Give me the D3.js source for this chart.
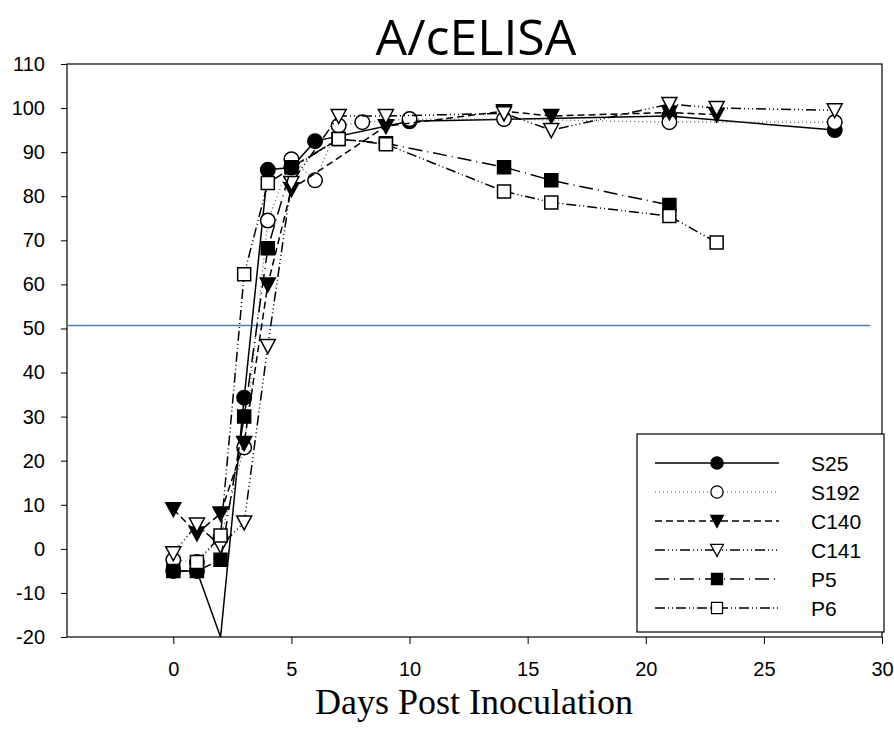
<!DOCTYPE html>
<html><head><meta charset="utf-8">
<script src="https://cdn.jsdelivr.net/npm/d3@7"></script>
<style>body{margin:0;background:#fff}</style>
</head><body>
<svg id="chart" width="894" height="742"></svg>
<script>
const title = "A/cELISA";
const xLabel = "Days Post Inoculation";
const xTicks = [0, 5, 10, 15, 20, 25, 30];
const yTicks = [-20, -10, 0, 10, 20, 30, 40, 50, 60, 70, 80, 90, 100, 110];
const cutoff = 50.7;
const seriesNames = ["S25", "S192", "C140", "C141", "P5", "P6"];

const daysS25 = [0, 1, 2, 3, 4, 5, 6, 10, 21, 28];
const valsS25 = [-5, -5, -20, 34.3, 86, 86.5, 92.5, 97, 98.2, 95];

const daysS192 = [0, 1, 2, 3, 4, 5, 6, 7, 8, 10, 14, 21, 28];
const valsS192 = [-2.5, -3, 2.5, 23, 74.5, 88.4, 83.6, 96, 96.8, 97.5, 97.5, 96.8, 96.8];

const daysC140 = [0, 1, 2, 3, 4, 5, 9, 14, 16, 21, 23];
const valsC140 = [9, 3.5, 8, 24, 60, 81.6, 95.9, 99.3, 98.2, 99, 98.5];

const daysC141 = [0, 1, 2, 3, 4, 5, 7, 9, 14, 16, 21, 23, 28];
const valsC141 = [-1, 5.5, 0.7, 6, 46, 83, 98.2, 98.2, 98.8, 95, 100.9, 100, 99.5];

const daysP5 = [0, 1, 2, 3, 4, 5, 7, 9, 14, 16, 21];
const valsP5 = [-5, -5, -2.5, 30, 68.2, 86.6, 93, 92, 86.6, 83.6, 78];

const daysP6 = [1, 2, 3, 4, 7, 9, 14, 16, 21, 23];
const valsP6 = [-3, 3, 62.3, 83, 93, 91.8, 81.1, 78.6, 75.5, 69.5];

const seriesDays = [daysS25, daysS192, daysC140, daysC141, daysP5, daysP6];
const seriesVals = [valsS25, valsS192, valsC140, valsC141, valsP5, valsP6];
const dashes = [null, "1,3", "7,4", "10,3,1,3,1,3,1,3", "14,5,1,5", "10,3,1,3,1,3"];
const lineColors = ["#000", "#555", "#000", "#000", "#000", "#000"];
const lineWidths = [1.5, 1.2, 1.5, 1.5, 1.5, 1.5];
const markerTypes = [d3.symbolCircle, d3.symbolCircle, "tri", "tri", d3.symbolSquare, d3.symbolSquare];
const markerFill = ["#000", "#fff", "#000", "#fff", "#000", "#fff"];

const svg = d3.select("#chart");
const L = 67, R = 882, T = 64, B = 637;
const x = d3.scaleLinear().domain([-4.5, 30]).range([L, R]);
const y = d3.scaleLinear().domain([-20, 110]).range([B, T]);

svg.append("defs").append("clipPath").attr("id", "clip")
  .append("rect").attr("x", L).attr("y", T).attr("width", R - L).attr("height", B - T);

// title
svg.append("text").attr("x", 476).attr("y", 55).attr("text-anchor", "middle")
  .attr("font-family", "Open Sans, Liberation Sans, sans-serif").attr("font-size", 50)
  .text(title);

// frame
svg.append("rect").attr("x", L).attr("y", T).attr("width", R - L).attr("height", B - T)
  .attr("fill", "none").attr("stroke", "#000").attr("stroke-width", 1.2);

// axes
const fmt = d => String(d);
const yAxis = d3.axisLeft(y).tickValues(yTicks).tickSize(6).tickPadding(16).tickFormat(fmt);
const gy = svg.append("g").attr("transform", `translate(${L},0)`).call(yAxis);
gy.select(".domain").remove();
gy.selectAll("text").attr("font-family", "Liberation Sans, Arial, sans-serif").attr("font-size", 20).attr("fill", "#000");

const xAxis = d3.axisBottom(x).tickValues(xTicks).tickSize(7).tickPadding(18).tickFormat(fmt);
const gx = svg.append("g").attr("transform", `translate(0,${B})`).call(xAxis);
gx.select(".domain").remove();
gx.selectAll("text").attr("font-family", "Liberation Sans, Arial, sans-serif").attr("font-size", 20).attr("fill", "#000");

// x label
svg.append("text").attr("x", 474).attr("y", 714).attr("text-anchor", "middle")
  .attr("font-family", "Liberation Serif, Times New Roman, serif").attr("font-size", 36)
  .text(xLabel);

// cutoff line
svg.append("line").attr("x1", x(-4.5)).attr("x2", x(29.5)).attr("y1", y(cutoff)).attr("y2", y(cutoff))
  .attr("stroke", "#4a7ebb").attr("stroke-width", 1.5);

function markerPath(type) {
  if (type === "tri") {
    return "M-7.5,-6.5L7.5,-6.5L0,7.5Z";
  }
  return d3.symbol().type(type).size(type === d3.symbolSquare ? 169 : 165)();
}

const plot = svg.append("g").attr("clip-path", "url(#clip)");
const line = d3.line().x(d => x(d[0])).y(d => y(d[1]));

seriesNames.forEach((name, i) => {
  const pts = seriesDays[i].map((d, j) => [d, seriesVals[i][j]]);
  plot.append("path").datum(pts).attr("d", line).attr("fill", "none")
    .attr("stroke", lineColors[i]).attr("stroke-width", lineWidths[i])
    .attr("stroke-dasharray", dashes[i]);
  plot.selectAll(null).data(pts.filter(p => p[1] > -20)).enter().append("path")
    .attr("d", markerPath(markerTypes[i]))
    .attr("transform", p => `translate(${x(p[0])},${y(p[1])})`)
    .attr("fill", markerFill[i]).attr("stroke", "#000").attr("stroke-width", 1.5);
});

// legend
const lg = svg.append("g");
lg.append("rect").attr("x", 637).attr("y", 434).attr("width", 247).attr("height", 198)
  .attr("fill", "#fff").attr("stroke", "#000").attr("stroke-width", 1.2);
seriesNames.forEach((name, i) => {
  const yy = 463 + i * 29;
  lg.append("line").attr("x1", 655).attr("x2", 779).attr("y1", yy).attr("y2", yy)
    .attr("stroke", lineColors[i]).attr("stroke-width", lineWidths[i]).attr("stroke-dasharray", dashes[i]);
  lg.append("path").attr("d", markerPath(markerTypes[i]))
    .attr("transform", `translate(717,${yy}) scale(0.85)`)
    .attr("fill", markerFill[i]).attr("stroke", "#000").attr("stroke-width", 1.5);
  lg.append("text").attr("x", 811).attr("y", yy + 8)
    .attr("font-family", "Liberation Sans, Arial, sans-serif").attr("font-size", 21)
    .text(name);
});
</script>
</body></html>
